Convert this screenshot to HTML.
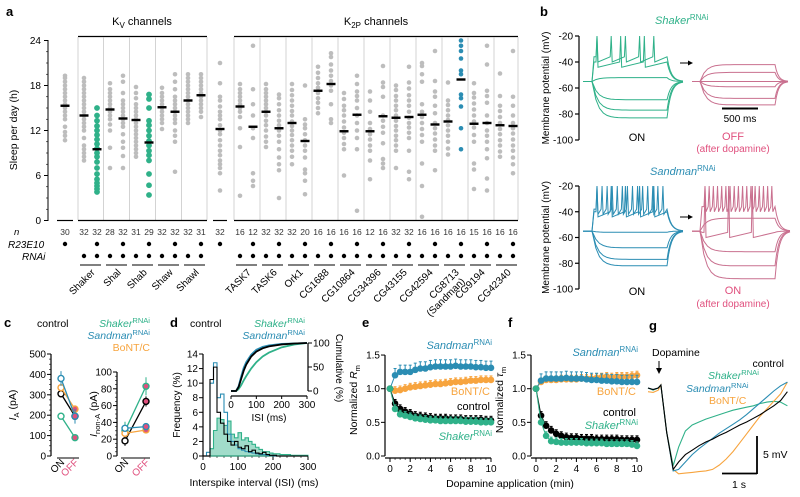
<!DOCTYPE html>
<html><head><meta charset="utf-8"><style>
html,body{margin:0;padding:0;background:#fff}
svg{display:block;font-family:"Liberation Sans",Arial,sans-serif}
</style></head><body>
<svg id="fig" width="800" height="497" viewBox="0 0 800 497" xmlns="http://www.w3.org/2000/svg">
<g id="pa"></g>
<g id="pb"></g>
<g id="pc"></g>
<g id="pd"></g>
<g id="pe"></g>
<g id="pf"></g>
<g id="pg"></g>
</svg>
<script>
// ---------- Panel a data ----------
const aColX=[65,84,97,110,123,136,149,162,175,188,201,220,240,253,266,279,292,305,318,331,344,357,370,383,396,409,422,435,448,461,474,487,500,513];
const aN=[30,32,32,28,32,31,29,32,32,32,31,32,16,12,32,32,32,20,16,16,16,16,12,16,32,32,16,16,16,16,15,16,16,16];
const aMedian=[15.3,14,9.5,14.8,13.6,13.4,10.4,15.1,14.5,16,16.7,12.2,15.2,12.5,14.5,12.3,13,10.6,17.3,18.2,11.9,14.1,11.9,13.9,13.7,13.8,14.1,12.8,13.2,18.8,12.9,13,12.7,12.6];
const aDriver=[1,0,1,0,1,0,1,0,1,0,1,1,0,1,0,1,0,1,0,1,0,1,0,1,0,1,0,1,0,1,0,1,0,1];
const aRNAi=[0,1,1,1,1,1,1,1,1,1,1,0,1,1,1,1,1,1,1,1,1,1,1,1,1,1,1,1,1,1,1,1,1,1];
const aColor=['g','g','G','g','g','g','G','g','g','g','g','g','g','g','g','g','g','g','g','g','g','g','g','g','g','g','g','g','g','B','g','g','g','g'];
const aDots=[
[10.7,11.3,11.8,12.5,13.5,14,14.5,15,15.5,16,16.5,17,17.5,18,18.5,19,19.3],
[8,8.5,9,9.5,10,11,12,12.5,13,13.5,14,14.5,15,15.5,16,16.5,17,17.5,18,18.5,19],
[3.8,4.2,4.6,5,5.5,6.2,7,7.8,8.5,9,9.6,10.2,10.8,11.4,12,12.6,13.3,14,15],
[7,9.7,12,12.8,13.5,14,14.5,15,15.5,16,16.5,17,17.5,18.3],
[7,8.6,9.7,10.5,11.5,12.5,13,13.5,14,14.5,15,15.5,16,17,18.5,19.3],
[8.5,9,9.5,10,10.5,11,11.5,12,12.5,13,13.5,14,14.5,15,15.5,16.3,17,17.8],
[3.4,4.7,6.2,8,8.7,9.3,10,10.6,11.3,12,12.7,13.3,15,16.2,16.8],
[12.2,13,13.5,14,14.5,15,15.5,16,16.5,17,17.7],
[6.5,10.5,11.3,12,13,13.5,14,14.5,15,15.5,16,16.5,17.5,18.5,19.5],
[13,13.5,14,14.5,15,15.5,16,16.5,17,17.5,18,18.5,19,19.5],
[13.8,14.5,15,15.5,16,16.5,17,17.5,18,18.5,19,19.5],
[4,6.3,7,7.5,8,8.7,9.3,10,10.7,11.5,12,12.7,13.5,14,14.5,15.2,16,16.5,18.3,21],
[3.3,9.8,12.3,13.8,14.5,15,15.5,16,16.5,17,17.5,18.2],
[4.6,5.3,6.3,11,12.3,14,15.5,17.5,23.3],
[9.8,10.5,11.2,12,12.7,13.3,14,14.5,15,15.5,16,16.5,17,17.5,18.2],
[3,6.7,7.5,8.4,9.5,10.5,11.3,12,12.7,13.3,14,14.7,15.5,16.3,16.8],
[7.5,8.5,9.3,10,10.7,11.4,12,12.6,13.2,14,14.6,15.3,16,16.7,17.4,18.2],
[3.5,5.3,6.3,6.8,8.4,9.3,10,10.7,11.5,12.3,12.8,13.5,18],
[14.3,15,15.7,16.3,17,17.7,18.3,19,19.7,20.5],
[13,13.5,15.5,17.3,18,18.6,19.3,20,20.8,21.8,22.3],
[6,9.5,10.2,11,11.7,12.4,13.2,14,14.7,15.3,16.2,17],
[1.3,9.5,11,12,13,14,15,16,16.6,17.2,18.2,19.3],
[5.5,8,9.3,10,10.8,11.5,12.2,13,14.5,16,17.2],
[7,7.6,8.2,10.3,11.7,12.5,13.3,14,16.5,17.8,18.4,20.6],
[7,9.3,10,10.7,11.3,12,12.6,13.3,14,14.7,15.3,16,16.6,17.4,18],
[5.5,6.5,9.3,11,11.7,12.4,13,13.7,14.5,15.3,16,16.7,17.6,18.4,20.5],
[0.5,4.6,7.6,10.5,11.4,12.2,13,13.8,14.5,15.5,18.5,19.5,20.6,21],
[6.7,9.3,10,10.8,11.6,12.3,13,14.3,15.3,16.5,17.2,18.6,22.6],
[8.8,9.6,10.5,11.3,12,12.7,13.4,14,14.7,15.4,16,18.4],
[9.5,12.3,15.2,16.3,16.8,19.5,20,21.6,22.6,23.3,24],
[4.2,6.8,7.6,10.5,11.4,12.4,13.2,14,14.8,15.6,16.4,17,18.3],
[4,5.6,8.3,9.5,10.5,11.3,12,13,14,15.7,16.6,17.3,20.8,23.3],
[8.5,9.2,10,10.7,11.5,12.2,13,13.8,14.6,15.3,16.6,19.6],
[6.3,7.5,8.4,9.3,10,10.8,11.6,12.3,13,14,15.3,16.5,22.6]
];
const kvGenes=['Shaker','Shal','Shab','Shaw','Shawl'];
const k2pGenes=['TASK7','TASK6','Ork1','CG1688','CG10864','CG34396','CG43155','CG42594','CG8713','CG9194','CG42340'];
const aYTicks=[0,6,12,18,24];
// ---------- Panel b data (mV levels) ----------
const bShakerOn=[-83,-77,-69,-52,-40,-36];
const bShakerOnSpikes=[0,0,0,0,3,5];
const bShakerOff=[-42,-48,-55,-59,-68,-73];
const bSandOn=[-82,-77,-68,-56,-40,-38];
const bSandOnSpikes=[0,0,0,0,5,14];
const bSandOff=[-92,-82,-71,-56,-45,-36];
const bSandOffSpikes=[0,0,0,3,0,17];
const bYTicks=[-20,-40,-60,-80,-100];
// ---------- Panel c data ----------
const cSeries=['control','Shaker','Sandman','BoNT'];
const cIA_on=[305,195,380,335];
const cIA_off=[195,90,195,230];
const cIA_err=[30,25,60,30];
const cIN_on=[18,30,33,27];
const cIN_off=[65,83,35,31];
const cIN_err=[10,18,5,5];
const cIATicks=[0,100,200,300,400,500];
const cINTicks=[0,20,40,60,80,100];
// ---------- Panel d data (10 ms bins) ----------
const dGreen=[0,0,1,3.5,5.2,5,4.2,4.8,3,2.5,3.2,2.2,2.5,2,1.6,1.2,0.9,0.6,0.6,0.4,0.3,0.3,0.2,0.2,0.2,0.1,0.1,0.1,0.1,0.1];
const dBlack=[0,0,10.5,12.2,6,4.5,3,2,1.5,2,1.2,1,1.4,0.6,0.8,0.4,0.3,0.5,0.2,0.1,0.1,0,0,0,0,0,0,0,0,0];
const dBlue=[0,0.5,10,12.8,8,8.5,6,3,2,1.5,1,0.8,0.6,0.5,0.4,0.3,0.2,0.2,0.1,0.1,0,0,0,0,0,0,0,0,0,0];
const dCumX=[0,20,30,40,50,60,80,100,125,150,200,250,300];
const dCumBlack=[0,0,8,25,42,55,72,82,89,93,97,99,100];
const dCumBlue=[0,0,10,30,48,60,76,86,92,95,98,99,100];
const dCumGreen=[0,0,4,12,22,31,47,60,72,80,91,97,100];
const dXTicks=[0,100,200,300];
const dYTicks=[0,2,4,6,8,10,12,14];
// ---------- Panels e,f data ----------
const efTime=[0,0.5,1,1.5,2,2.5,3,3.5,4,4.5,5,5.5,6,6.5,7,7.5,8,8.5,9,9.5,10];
const eSand=[1.0,1.2,1.25,1.25,1.25,1.28,1.3,1.3,1.32,1.33,1.33,1.33,1.33,1.34,1.33,1.33,1.33,1.32,1.32,1.31,1.31];
const eBont=[1.0,0.97,0.98,1.0,1.02,1.03,1.04,1.05,1.06,1.07,1.07,1.08,1.09,1.1,1.1,1.11,1.12,1.12,1.13,1.13,1.13];
const eCtrl=[1.0,0.78,0.7,0.66,0.63,0.6,0.59,0.58,0.57,0.56,0.56,0.56,0.55,0.55,0.55,0.54,0.54,0.54,0.54,0.53,0.53];
const eShak=[1.0,0.7,0.62,0.6,0.58,0.56,0.55,0.54,0.53,0.53,0.52,0.52,0.52,0.52,0.52,0.51,0.51,0.51,0.5,0.5,0.5];
const fSand=[1.0,1.12,1.15,1.15,1.15,1.15,1.16,1.15,1.15,1.15,1.14,1.13,1.13,1.12,1.12,1.11,1.11,1.1,1.1,1.1,1.1];
const fBont=[1.0,1.1,1.13,1.13,1.13,1.14,1.14,1.14,1.14,1.15,1.15,1.15,1.16,1.17,1.18,1.17,1.18,1.18,1.18,1.19,1.2];
const fCtrl=[1.0,0.6,0.45,0.38,0.33,0.3,0.28,0.27,0.27,0.26,0.26,0.26,0.25,0.25,0.25,0.25,0.25,0.24,0.24,0.24,0.24];
const fShak=[1.0,0.5,0.3,0.22,0.21,0.2,0.2,0.2,0.2,0.2,0.19,0.19,0.19,0.19,0.18,0.18,0.18,0.18,0.18,0.17,0.15];
const efYTicks=[0,0.5,1,1.5];
const efXTicks=[0,2,4,6,8,10];
// ---------- Panel g data (s, mV) ----------
const gTime=[0,0.15,0.3,0.38,0.55,0.74,0.9,1.1,1.3,1.5,1.7,1.9,2.1,2.3,2.5,2.7,2.9,3.1,3.3,3.5,3.7,3.9,4.1];
const gCtrl=[0,-0.2,0,0.4,-6,-11,-10,-9,-8.4,-7.8,-7.3,-6.9,-6.4,-6,-5.5,-5,-4.6,-4.1,-3.6,-3,-2.4,-1.7,-0.5];
const gShak=[0,-0.3,0,0.4,-6,-10.5,-8,-5.8,-5,-4.6,-4.2,-3.9,-3.6,-3.3,-3,-2.8,-2.6,-2.4,-2.1,-1.9,-1.8,-1.9,-2.4];
const gSand=[0,-0.2,0,0.4,-6,-11.2,-11,-10,-9,-8.2,-7.5,-6.8,-6.1,-5.5,-4.9,-4.3,-3.6,-2.8,-2,-1.2,-0.4,0.3,0.8];
const gBont=[-0.5,-0.6,-0.3,0.4,-6,-11,-11.6,-11.5,-11.4,-11.3,-11.2,-11,-10.4,-9.6,-8.6,-7.4,-6.2,-5,-3.8,-2.8,-1.8,-0.8,0.8];

const GREEN='#2fb189',BLUE='#2b8db3',ORANGE='#f7a43e',PINK='#e0507e',ROSE='#c9708f',GRAY='#bdbdbd';
const NS='http://www.w3.org/2000/svg';
function mk(parent,tag,attrs,text){const e=document.createElementNS(NS,tag);for(const k in attrs)e.setAttribute(k,attrs[k]);if(text!==undefined)e.textContent=text;parent.appendChild(e);return e;}
function line(p,x1,y1,x2,y2,st,w){return mk(p,'line',{x1,y1,x2,y2,stroke:st||'#000','stroke-width':w||1});}
function txt(p,x,y,s,opt){opt=opt||{};const e=mk(p,'text',{x,y,'font-size':opt.fs||10,fill:opt.fill||'#000','text-anchor':opt.anchor||'start','font-style':opt.it?'italic':'normal','font-weight':opt.bold?'bold':'normal'},s);if(opt.rot!==undefined)e.setAttribute('transform',`rotate(${opt.rot} ${x} ${y})`);return e;}
function sup(p,x,y,main,s,col,fs,anchor){const e=mk(p,'text',{x,y,'font-size':fs||11,fill:col,'text-anchor':anchor||'start'});mk(e,'tspan',{'font-style':'italic'},main);mk(e,'tspan',{'font-size':(fs||11)*0.72,dy:-4},s);return e;}

// ================= Panel a =================
(function(){
const g=document.getElementById('pa');
const ya=v=>220.5-v*7.5;
txt(g,6,16,'a',{fs:13,bold:true});
let t=txt(g,142,25,'K',{fs:11,anchor:'middle'});mk(t,'tspan',{'font-size':8,dy:3},'V');mk(t,'tspan',{dy:-3},' channels');
t=txt(g,376,25,'K',{fs:11,anchor:'middle'});mk(t,'tspan',{'font-size':8,dy:3},'2P');mk(t,'tspan',{dy:-3},' channels');
line(g,78,36.5,207,36.5,'#000',1.2);line(g,234,36.5,518,36.5,'#000',1.2);
const seps=[78,103.6,129.6,155.5,181.5,207,234,260,286,312,338,364,390,416,442,468,494,518];
seps.forEach(x=>{const l=line(g,x,37,x,220,'#c8c8c8',0.8);});
line(g,48,40,48,221);
aYTicks.forEach(v=>{line(g,44,ya(v),48,ya(v));txt(g,41,ya(v)+3.5,String(v),{fs:10,anchor:'end'});});
for(let v=0;v<=24;v+=1.5){line(g,46,ya(v),48,ya(v),'#000',0.6);}
const yl=txt(g,17,130,'Sleep per day (h)',{fs:10.5,anchor:'middle',rot:-90});
line(g,57,220.5,73,220.5,'#000',1.2);line(g,78,220.5,207,220.5,'#000',1.2);line(g,213,220.5,227,220.5,'#000',1.2);line(g,234,220.5,518,220.5,'#000',1.2);
txt(g,14,235,'n',{fs:9.5,it:true});
txt(g,8,248,'R23E10',{fs:10,it:true});txt(g,22,260,'RNAi',{fs:10,it:true});
aColX.forEach((x,i)=>{
  const col=aColor[i]==='G'?GREEN:aColor[i]==='B'?BLUE:GRAY;
  const r=aColor[i]==='G'?2.9:2.3;
  aDots[i].forEach(v=>{const c=mk(g,'circle',{cx:x,cy:ya(v),r,fill:col});});
  const m=mk(g,'rect',{x:x-4.5,y:ya(aMedian[i])-1.2,width:9,height:2.4,fill:'#000'});
  
  txt(g,x,235,String(aN[i]),{fs:8.5,anchor:'middle',fill:'#333'});
  if(aDriver[i])mk(g,'circle',{cx:x,cy:244,r:2.2,fill:'#000'});
  if(aRNAi[i])mk(g,'circle',{cx:x,cy:256,r:2.2,fill:'#000'});
});
const genes=kvGenes.concat(k2pGenes);
const pairStart=[1,3,5,7,9,12,14,16,18,20,22,24,26,28,30,32];
pairStart.forEach((ci,k)=>{
  const x1=aColX[ci],x2=aColX[ci+1];line(g,x1-4,265,x2+4,265,'#000',0.9);
  const cx=(x1+x2)/2+5;const l=txt(g,cx,273,genes[k],{fs:10,anchor:'end',rot:-45});
  
  if(genes[k]==='CG8713'){txt(g,cx+6,282,'(Sandman)',{fs:10,anchor:'end',rot:-45});}
});
})();

// ================= Panel b =================
(function(){
const g=document.getElementById('pb');
txt(g,540,16,'b',{fs:13,bold:true});
function axis(y0,ytop){
  const yb=v=>ytop+(-20-v)*(y0-ytop)/80;
  line(g,579,ytop,579,y0,'#000',1.2);
  bYTicks.forEach(v=>{line(g,575,yb(v),579,yb(v),'#000',1.2);txt(g,573,yb(v)+3.5,String(v),{fs:10,anchor:'end'});});
  txt(g,549,(ytop+y0)/2,'Membrane potential (mV)',{fs:10,anchor:'middle',rot:-90});
  return yb;
}
function traces(yb,x0,xs,xe,x1,levels,spikes,col,name){
  levels.forEach((lv,i)=>{
    let d=`M${x0},${yb(-55)} L${xs},${yb(-55)}`;
    const n=spikes[i];
    for(let k=0;k<=20;k++){const x=xs+(xe-xs)*k/20;const v=lv+(-55-lv)*Math.exp(-k/1.5);d+=` L${x.toFixed(1)},${yb(v).toFixed(1)}`;}
    if(n>0){d=`M${x0},${yb(-55)} L${xs},${yb(-55)} L${xs+2},${yb(lv)}`;const step=(xe-xs-4)/n;for(let k=0;k<n;k++){const sx=xs+4+k*step;d+=` L${sx},${yb(lv)} L${sx+1},${yb(-20)} L${sx+2},${yb(lv-4)} L${sx+step},${yb(lv)}`;}}
    for(let k=1;k<=10;k++){const x=xe+(x1-xe)*k/10;const v=-55+(lv-(-55))*Math.exp(-k/2.5);d+=` L${x.toFixed(1)},${yb(v).toFixed(1)}`;}
    const p=mk(g,'path',{d,fill:'none',stroke:col,'stroke-width':1});
  });
}
const y1=axis(140,36);
sup(g,655,24,'Shaker','RNAi',GREEN,11);
traces(y1,583,592,667,683,bShakerOn,bShakerOnSpikes,GREEN,'shaker-on-trace');
traces(y1,692,700,775,788,bShakerOff,[0,0,0,0,0,0],ROSE,'shaker-off-trace');
line(g,680,63,690,63);mk(g,'path',{d:'M693,63 L688,60.5 L688,65.5 Z',fill:'#000'});
line(g,722,108.5,758,108.5,'#000',2);txt(g,740,122,'500 ms',{fs:10,anchor:'middle'});
txt(g,637,141,'ON',{fs:11,anchor:'middle'});
txt(g,733,140,'OFF',{fs:11,anchor:'middle',fill:PINK});txt(g,733,152,'(after dopamine)',{fs:10,anchor:'middle',fill:PINK});
const y2=axis(289,186);
sup(g,650,175,'Sandman','RNAi',BLUE,11);
traces(y2,583,592,667,683,bSandOn,bSandOnSpikes,BLUE,'sandman-on-trace');
traces(y2,692,700,775,790,bSandOff,bSandOffSpikes,ROSE,'sandman-after-trace');
line(g,680,217,690,217);mk(g,'path',{d:'M693,217 L688,214.5 L688,219.5 Z',fill:'#000'});
txt(g,637,295,'ON',{fs:11,anchor:'middle'});
txt(g,733,294,'ON',{fs:11,anchor:'middle',fill:PINK});txt(g,733,307,'(after dopamine)',{fs:10,anchor:'middle',fill:PINK});
})();

// ================= Panel c =================
(function(){
const g=document.getElementById('pc');
txt(g,4,327,'c',{fs:13,bold:true});
txt(g,37,327,'control',{fs:10.5});
sup(g,150,327,'Shaker','RNAi',GREEN,10.5,'end');
sup(g,150,339,'Sandman','RNAi',BLUE,10.5,'end');
txt(g,150,351,'BoNT/C',{fs:10.5,fill:ORANGE,anchor:'end'});
const cols=['#000',GREEN,BLUE,ORANGE];
function sub(ax,top,max,ticks,on,off,err,xon,xoff,labx,sublab){
  const yc=v=>456-v*(456-top)/max;
  line(g,ax,yc(max),ax,456,'#000',1.2);
  ticks.forEach(v=>{line(g,ax-4,yc(v),ax,yc(v),'#000',1);txt(g,ax-5,yc(v)+3.5,String(v),{fs:10,anchor:'end'});});
  for(let v=0;v<=max;v+=max/20)line(g,ax-2,yc(v),ax,yc(v),'#000',0.6);
  line(g,xon-4,458,xoff+4,458,'#000',1);
  const t=txt(g,labx,(top+456)/2,'I',{fs:10.5,anchor:'middle',rot:-90,it:true});mk(t,'tspan',{'font-size':7.5,dy:3,'font-style':'normal'},sublab);mk(t,'tspan',{dy:-3,'font-style':'normal'},' (pA)');
  [1,0,3,2].forEach(k=>{
    line(g,xon,yc(on[k]),xoff,yc(off[k]),cols[k],1.3);
    line(g,xoff,yc(off[k]-err[k]*0.6),xoff,yc(off[k]+err[k]*0.6),cols[k],1);
    line(g,xon,yc(on[k]-err[k]*0.6),xon,yc(on[k]+err[k]*0.6),cols[k],1);
    const a=mk(g,'circle',{cx:xon,cy:yc(on[k]),r:3,fill:'#fff',stroke:cols[k],'stroke-width':1.4});
    const b=mk(g,'circle',{cx:xoff,cy:yc(off[k]),r:3,fill:PINK,stroke:cols[k],'stroke-width':1.4});
  });
  txt(g,xon+4,463,'ON',{fs:10,anchor:'end',rot:-45});
  txt(g,xoff+4,463,'OFF',{fs:10,anchor:'end',rot:-45,fill:PINK});
}
sub(51,354,500,cIATicks,cIA_on,cIA_off,cIA_err,61,75,16,'A');
sub(117,372,100,cINTicks,cIN_on,cIN_off,cIN_err,125,146,97,'non-A');
})();

// ================= Panel d =================
(function(){
const g=document.getElementById('pd');
const xd=v=>203+v*(308-203)/300, yd=v=>456-v*(456-354)/14;
txt(g,170,327,'d',{fs:13,bold:true});
txt(g,190,327,'control',{fs:10.5});
sup(g,305,327,'Shaker','RNAi',GREEN,10.5,'end');
sup(g,305,339,'Sandman','RNAi',BLUE,10.5,'end');
line(g,203,354,203,456,'#000',1.2);line(g,203,456,308,456,'#000',1.2);
dYTicks.forEach(v=>{line(g,199,yd(v),203,yd(v));txt(g,198,yd(v)+3.5,String(v),{fs:10,anchor:'end'});});
dXTicks.forEach(v=>{line(g,xd(v),456,xd(v),460);txt(g,xd(v),470,String(v),{fs:10,anchor:'middle'});});
for(let v=0;v<=300;v+=20)line(g,xd(v),456,xd(v),458,'#000',0.6);
txt(g,180,405,'Frequency (%)',{fs:10,anchor:'middle',rot:-90});
txt(g,254,486,'Interspike interval (ISI) (ms)',{fs:10.5,anchor:'middle'});
function hist(arr,col,fill,name){let d=`M${xd(0)},${yd(0)}`;arr.forEach((v,i)=>{d+=` L${xd(i*10)},${yd(v)} L${xd(i*10+10)},${yd(v)}`;});d+=` L${xd(300)},${yd(0)}`;if(fill)d+=' Z';const p=mk(g,'path',{d,fill:fill||'none',stroke:col,'stroke-width':1.1});}
hist(dGreen,GREEN,'rgba(47,177,137,0.45)','shaker-histogram');
hist(dBlue,BLUE,null,'sandman-histogram');
hist(dBlack,'#000',null,'control-histogram');
const xi=v=>231+v*(307-231)/300, yi=v=>391-v*(391-343)/100;
mk(g,'rect',{x:228,y:340,width:82,height:54,fill:'#fff'});
line(g,231,396,307,396,'#000',1.2);line(g,308,343,308,391,'#000',1.2);
[0,100,200,300].forEach(v=>{line(g,xi(v),396,xi(v),399);txt(g,xi(v),408,String(v),{fs:10,anchor:'middle'});});
[0,50,100].forEach(v=>{line(g,308,yi(v),312,yi(v));txt(g,313,yi(v)+3.5,String(v),{fs:10});});
txt(g,269,421,'ISI (ms)',{fs:10,anchor:'middle'});
txt(g,336,368,'Cumulative (%)',{fs:10,anchor:'middle',rot:90});
function cum(arr,col,name){let d='';dCumX.forEach((v,i)=>{d+=(i?' L':'M')+xi(v)+','+yi(arr[i]);});const p=mk(g,'path',{d,fill:'none',stroke:col,'stroke-width':1.8});}
cum(dCumGreen,GREEN,'shaker-cumulative');cum(dCumBlue,BLUE,'sandman-cumulative');cum(dCumBlack,'#000','control-cumulative');
})();

// ================= Panels e,f =================
function efPanel(id,letter,x0,series,labelMain,labelSub,labels){
const g=document.getElementById(id);
const xs=v=>x0+v*10.1, ys=v=>456-v*67.3;
txt(g,x0-28,327,letter,{fs:13,bold:true});
line(g,x0-5,ys(1.5),x0-5,456,'#000',1.2);line(g,x0-5,458,xs(10),458,'#000',1.2);
efYTicks.forEach(v=>{line(g,x0-9,ys(v),x0-5,ys(v));txt(g,x0-10,ys(v)+3.5,v.toFixed(1),{fs:10,anchor:'end'});});
efXTicks.forEach(v=>{line(g,xs(v),458,xs(v),462);txt(g,xs(v),472,String(v),{fs:10,anchor:'middle'});});
for(let v=0;v<=10;v+=0.5)line(g,xs(v),458,xs(v),460,'#000',0.6);
const t=txt(g,x0-33,400,'Normalized ',{fs:10.5,anchor:'middle',rot:-90});mk(t,'tspan',{'font-style':'italic'},labelMain);mk(t,'tspan',{'font-size':7.5,dy:3},labelSub);
series.forEach(s=>{
  const [arr,col,nm]=s;
  const eb=nm==='sandman'?0.1:0.06;
  efTime.forEach((tt,i)=>{if(i>0){line(g,xs(tt),ys(arr[i]),xs(tt),ys(arr[i]+eb),col,1);line(g,xs(tt)-1.5,ys(arr[i]+eb),xs(tt)+1.5,ys(arr[i]+eb),col,1);}});
  let d='';efTime.forEach((tt,i)=>{d+=(i?' L':'M')+xs(tt)+','+ys(arr[i]);});
  mk(g,'path',{d,fill:'none',stroke:col,'stroke-width':1});
  efTime.forEach((tt,i)=>{const c=mk(g,'circle',{cx:xs(tt),cy:ys(arr[i]),r:3.3,fill:col});});
});
labels(g);
}
efPanel('pe','e',390,[[eBont,ORANGE,'bont'],[eSand,BLUE,'sandman'],[eCtrl,'#000','control'],[eShak,GREEN,'shaker']],'R','m',g=>{
sup(g,492,349,'Sandman','RNAi',BLUE,11,'end');
txt(g,490,395,'BoNT/C',{fs:11,fill:ORANGE,anchor:'end'});
txt(g,490,410,'control',{fs:11,anchor:'end'});
sup(g,492,440,'Shaker','RNAi',GREEN,11,'end');
});
efPanel('pf','f',536,[[fBont,ORANGE,'bont'],[fSand,BLUE,'sandman'],[fCtrl,'#000','control'],[fShak,GREEN,'shaker']],'τ','m',g=>{
sup(g,638,356,'Sandman','RNAi',BLUE,11,'end');
txt(g,636,395,'BoNT/C',{fs:11,fill:ORANGE,anchor:'end'});
txt(g,636,416,'control',{fs:11,anchor:'end'});
sup(g,638,429,'Shaker','RNAi',GREEN,11,'end');
});
txt(document.getElementById('pe'),510,487,'Dopamine application (min)',{fs:10.5,anchor:'middle'});

// ================= Panel g =================
(function(){
const g=document.getElementById('pg');
const xg=t=>648+t*34, yg=v=>388-v*7.4;
txt(g,649,330,'g',{fs:13,bold:true});
txt(g,652,356,'Dopamine',{fs:10.5});
line(g,659,361,659,371);mk(g,'path',{d:'M659,374 L656,368 L662,368 Z',fill:'#000'});
function tr(arr,col,name){let d='';gTime.forEach((t,i)=>{d+=(i?' L':'M')+xg(t).toFixed(1)+','+yg(arr[i]).toFixed(1);});const p=mk(g,'path',{d,fill:'none',stroke:col,'stroke-width':1.1});}
tr(gShak,GREEN,'shaker-trace');tr(gBont,ORANGE,'bont-trace');tr(gSand,BLUE,'sandman-trace');tr(gCtrl,'#000','control-trace');
txt(g,784,367,'control',{fs:10.5,anchor:'end'});
sup(g,708,379,'Shaker','RNAi',GREEN,10.5);
sup(g,686,392,'Sandman','RNAi',BLUE,10.5);
txt(g,709,404,'BoNT/C',{fs:10.5,fill:ORANGE});
line(g,757,436,757,474,'#000',1.8);line(g,722,473.5,757,473.5,'#000',1.8);
txt(g,763,458,'5 mV',{fs:10.5});txt(g,739,488,'1 s',{fs:10.5,anchor:'middle'});
})();
</script>
</body></html>
